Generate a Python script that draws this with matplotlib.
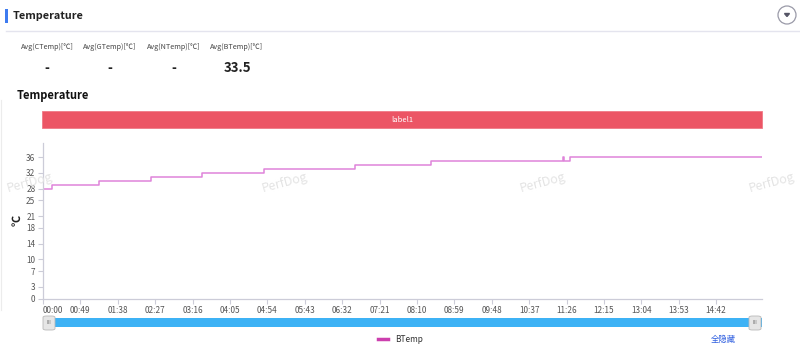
import numpy as np
import matplotlib
matplotlib.use('Agg')
import matplotlib.pyplot as plt
from matplotlib.patches import Rectangle, FancyBboxPatch, Ellipse, Polygon
from matplotlib.lines import Line2D

# data
times = [0, 12, 73, 141, 208, 289, 409, 508, 681, 683, 691, 942]   # seconds
btemp = [28, 29, 30, 31, 32, 33, 34, 35, 36, 35, 36, 36]
stat_labels = ['Avg(CTemp)[℃]', 'Avg(GTemp)[℃]', 'Avg(NTemp)[℃]', 'Avg(BTemp)[℃]']
stat_values = ['-', '-', '-', '33.5']
y_ticks = [0, 3, 7, 10, 14, 18, 21, 25, 28, 32, 36]
x_step = 49
x_ticks = np.arange(0, 883, x_step)
x_labels = ['%02d:%02d' % (t // 60, t % 60) for t in x_ticks]

plt.rcParams['font.family'] = ['Noto Sans CJK SC', 'DejaVu Sans']

W, H = 800, 358
fig = plt.figure(figsize=(W / 100, H / 100), dpi=100)
fig.set_facecolor('white')


def fx(x):
    return x / W


def fy(y):
    return 1 - y / H


def rect(x0, y0, x1, y1, **kw):
    fig.add_artist(Rectangle((fx(x0), fy(y1)), fx(x1) - fx(x0), fy(y0) - fy(y1),
                             transform=fig.transFigure, **kw))


# header
rect(5, 9, 7.5, 23, color='#3d7bf0', lw=0)
fig.text(fx(13), fy(16), 'Temperature', fontsize=7.8, fontweight='bold',
         color='#222222', va='center')
fig.add_artist(Line2D([fx(6), fx(800)], [fy(31), fy(31)], color='#e4e4ee',
                      lw=1, transform=fig.transFigure))
fig.add_artist(Ellipse((fx(787), fy(15)), 18 / W, 18 / H, transform=fig.transFigure,
                       facecolor='white', edgecolor='#9a9aa8', lw=0.9))
fig.add_artist(Polygon([[fx(784.5), fy(13.5)], [fx(789.5), fy(13.5)], [fx(787), fy(16.5)]],
                       closed=True, color='#555566', transform=fig.transFigure))

# averages
for cx, lab, val in zip([47, 110, 174, 237], stat_labels, stat_values):
    fig.text(fx(cx), fy(47), lab, fontsize=5.2, color='#444444', ha='center', va='center')
    fig.text(fx(cx), fy(68), val, fontsize=9.5, fontweight='bold', color='#222222',
             ha='center', va='center')

fig.text(fx(17), fy(96), 'Temperature', fontsize=8, fontweight='bold',
         color='#111111', va='center')

# red label band
rect(42, 111, 762, 128, facecolor='#ec5565', edgecolor='#f07a86', lw=0.6)
fig.text(fx(402), fy(120), 'label1', fontsize=5.5, color='white', ha='center', va='center')

# watermark
for wx in [30, 285, 543, 772]:
    fig.text(fx(wx), fy(183), 'PerfDog', fontsize=9, color='#e4e4e4', rotation=15,
             ha='center', va='center', zorder=0)

# main axes
ax = fig.add_axes([fx(43), fy(298.7), fx(762) - fx(43), fy(143) - fy(298.7)])
ax.set_facecolor('none')
ax.plot(times, btemp, drawstyle='steps-post', color='#df84da', lw=1.1)
ax.set_xlim(0, 942)
ax.set_ylim(0, 39.6)
ax.set_yticks(y_ticks)
ax.set_xticks(x_ticks)
ax.set_xticklabels(x_labels)
ax.get_xticklabels()[0].set_horizontalalignment('left')
for s in ['top', 'right']:
    ax.spines[s].set_visible(False)
for s in ['left', 'bottom']:
    ax.spines[s].set_color('#ccccd8')
    ax.spines[s].set_linewidth(0.9)
ax.tick_params(axis='both', colors='#ccccd8', labelcolor='#555555', labelsize=5.9,
               length=3.5, width=0.8, pad=2)
ax.set_ylabel('℃', fontsize=8, fontweight='bold', color='#222222', labelpad=2)

# dataZoom slider
rect(43, 318, 762, 327, facecolor='#3db2f5', lw=0)
for hx in [43, 749]:
    fig.add_artist(FancyBboxPatch((fx(hx), fy(330)), 12 / W, 14 / H,
                                  boxstyle='round,pad=0,rounding_size=0.004',
                                  transform=fig.transFigure, facecolor='#e6e6e6',
                                  edgecolor='#b8b8b8', lw=0.6))
    fig.text(fx(hx + 6), fy(323), 'III', fontsize=4, color='#777777',
             ha='center', va='center')

# legend
fig.add_artist(Line2D([fx(378), fx(388)], [fy(339), fy(339)], color='#cc3fae', lw=2.5,
                      transform=fig.transFigure))
fig.text(fx(395), fy(339), 'BTemp', fontsize=6, color='#333333', va='center')
fig.text(fx(711), fy(339.5), '全隐藏', fontsize=6, color='#2f5fe0', va='center')

# faint left border
fig.add_artist(Line2D([fx(0.5), fx(0.5)], [fy(100), fy(310)], color='#ececec', lw=0.8,
                      transform=fig.transFigure))

fig.savefig('out.png', dpi=100, facecolor='white')
